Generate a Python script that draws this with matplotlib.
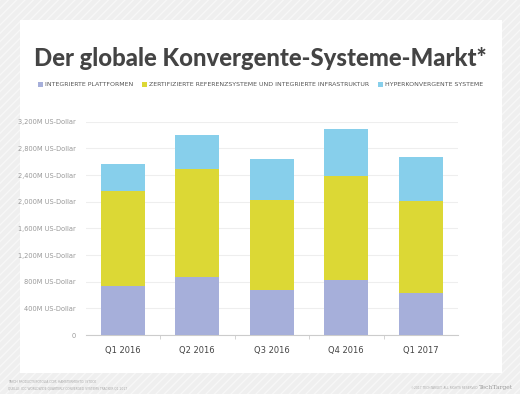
import matplotlib.pyplot as plt
import matplotlib.patches as mpatches
from matplotlib.ticker import FuncFormatter
import numpy as np

# data (million US-Dollar)
quarters = ["Q1 2016", "Q2 2016", "Q3 2016", "Q4 2016", "Q1 2017"]
integrated = [735, 865, 670, 829, 634]
certified = [1420, 1629, 1359, 1560, 1371]
hyper = [405, 506, 606, 705, 669]

series_names = ["INTEGRIERTE PLATTFORMEN",
                "ZERTIFIZIERTE REFERENZSYSTEME UND INTEGRIERTE INFRASTRUKTUR",
                "HYPERKONVERGENTE SYSTEME"]
colors = ["#a6afda", "#dcd835", "#87cfeb"]
y_ticks = [0, 400, 800, 1200, 1600, 2000, 2400, 2800, 3200]

W, H = 520, 394
fig = plt.figure(figsize=(W / 100, H / 100), dpi=100)

# hatched grey background and white card
bg = mpatches.Rectangle((0, 0), 1, 1, transform=fig.transFigure, facecolor="#efefef",
                        edgecolor="#f7f7f7", hatch="////", linewidth=0, zorder=-10)
fig.patches.append(bg)
card = mpatches.Rectangle((20 / W, 1 - 373 / H), 482 / W, 353 / H, transform=fig.transFigure,
                          facecolor="white", edgecolor="none", zorder=-9)
fig.patches.append(card)

# title, sized to fill the same width as the original
title = fig.text(0.5, 1 - 59 / H, "Der globale Konvergente-Systeme-Markt*", ha="center", va="center",
                 fontsize=17.5, fontweight="black", family="Lato", color="#444444")
fig.canvas.draw()
tw = title.get_window_extent().width
title.set_fontsize(17.5 * 452 / tw)

# legend row
lx = 38 / W
ly = 1 - 84 / H
for name, c in zip(series_names, colors):
    fig.patches.append(mpatches.Rectangle((lx, ly - 2.5 / H), 5 / W, 5 / H, transform=fig.transFigure,
                                          facecolor=c, edgecolor="none"))
    t = fig.text(lx + 7 / W, ly, name, ha="left", va="center", fontsize=4.5, color="#555555")
    fig.canvas.draw()
    bb = t.get_window_extent()
    lx = bb.x1 / W + 9 / W

# axes
ax = fig.add_axes([85.5 / W, 1 - 335 / H, (458 - 85.5) / W, (335 - 121.7) / H])
x = np.arange(len(quarters))
bw = 0.585
bottom = np.zeros(len(quarters))
for vals, c in zip([integrated, certified, hyper], colors):
    ax.bar(x, vals, bw, bottom=bottom, color=c, edgecolor="none", zorder=3)
    bottom += np.array(vals)

ax.set_xlim(-0.5, len(quarters) - 0.5)
ax.set_ylim(0, 3200)
ax.set_yticks(y_ticks)
ax.yaxis.set_major_formatter(FuncFormatter(lambda v, p: "0" if v == 0 else f"{int(v):,}M US-Dollar"))
ax.tick_params(axis="y", length=0, pad=7, labelsize=4.8, labelcolor="#999999")
ax.grid(axis="y", color="#eeeeee", linewidth=0.8, zorder=0)

ax.set_xticks(x)
ax.set_xticklabels(quarters)
ax.set_xticks(np.arange(0.5, len(quarters) - 0.5, 1), minor=True)
ax.tick_params(axis="x", which="major", length=0, pad=8, labelsize=6, labelcolor="#444444")
ax.tick_params(axis="x", which="minor", length=3, color="#cccccc", direction="out")

for s in ["top", "right", "left"]:
    ax.spines[s].set_visible(False)
ax.spines["bottom"].set_color("#cccccc")
ax.spines["bottom"].set_linewidth(0.8)

# footer
fig.text(8 / W, 1 - 382 / H, "TAKOH PRODUCTS/FOTOLIA.COM; HAMSTERMOHTO; ISTOCK",
         fontsize=2.2, color="#aaaaaa", va="center")
fig.text(8 / W, 1 - 388 / H, "QUELLE: IDC WORLDWIDE QUARTERLY CONVERGED SYSTEMS TRACKER Q1 2017",
         fontsize=2.2, color="#aaaaaa", va="center")
fig.text(478 / W, 1 - 388 / H, "©2017 TECHTARGET. ALL RIGHTS RESERVED",
         fontsize=2.2, color="#aaaaaa", va="center", ha="right")
fig.text(513 / W, 1 - 388 / H, "TechTarget", fontsize=4.3, color="#999999",
         va="center", ha="right", family="DejaVu Serif")

fig.savefig("out.png", dpi=100)
